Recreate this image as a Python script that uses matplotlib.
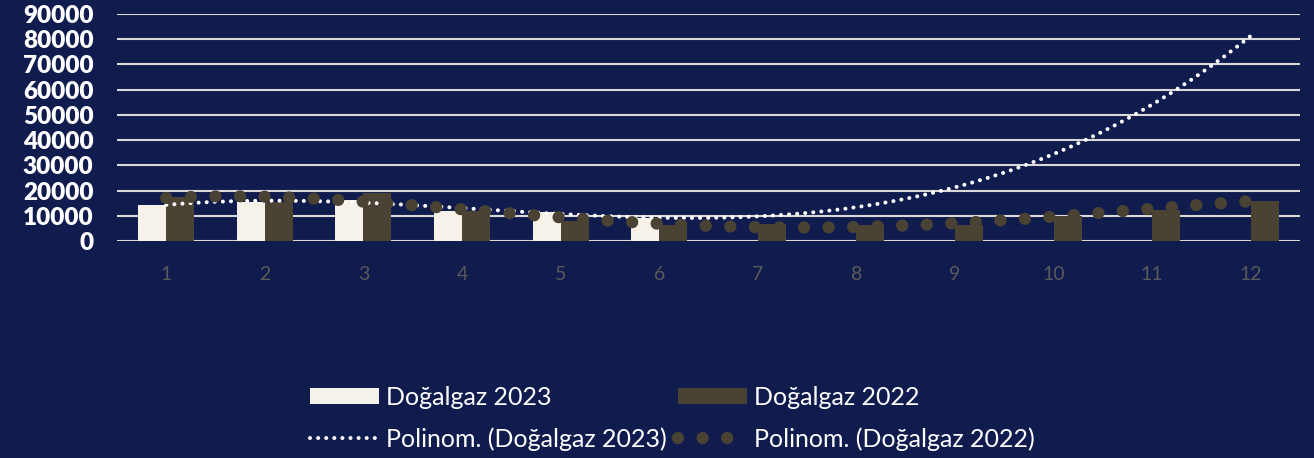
import matplotlib.pyplot as plt
import numpy as np

months = [1, 2, 3, 4, 5, 6, 7, 8, 9, 10, 11, 12]
gas_2023 = [14400, 15600, 16100, 12000, 11300, 9100]
gas_2022 = [17500, 15300, 19100, 11700, 8100, 6200, 6600, 6200, 6500, 9800, 12400, 16000]
y_ticks = [0, 10000, 20000, 30000, 40000, 50000, 60000, 70000, 80000, 90000]

bg = '#111C4E'
c23 = '#F6F2EA'
c22 = '#4A4334'

plt.rcParams['font.family'] = ['Lato', 'DejaVu Sans']

fig = plt.figure(figsize=(13.14, 4.58), dpi=100, facecolor=bg)
ax = fig.add_axes([117 / 1314, 1 - 241 / 458, (1300 - 117) / 1314, (241 - 14) / 458])
ax.set_facecolor(bg)

w = 0.284
x23 = np.array(months[:len(gas_2023)])
x22 = np.array(months)
b23 = ax.bar(x23 - w / 2, gas_2023, width=w, color=c23, zorder=2, label='Doğalgaz 2023')
b22 = ax.bar(x22 + w / 2, gas_2022, width=w, color=c22, zorder=2, label='Doğalgaz 2022')

# polynomial trend lines like the Excel ones (order 3 and 4)
xs = np.linspace(1, 12, 400)
p23 = np.polyfit(x23, gas_2023, 3)
p22 = np.polyfit(x22, gas_2022, 4)
l23, = ax.plot(xs, np.polyval(p23, xs), color='white', lw=2.9, dashes=(0.01, 2.0),
               dash_capstyle='round', zorder=3, label='Polinom. (Doğalgaz 2023)')
l22, = ax.plot(xs, np.polyval(p22, xs), color=c22, lw=8.8, dashes=(0.01, 2.0),
               dash_capstyle='round', zorder=4, label='Polinom. (Doğalgaz 2022)')

ax.set_xlim(0.5, 12.5)
ax.set_ylim(0, 90000)
ax.set_yticks(y_ticks)
ax.set_yticklabels([str(v) for v in y_ticks], color='white', fontsize=17.5, fontweight='heavy')
ax.set_xticks(months)
ax.set_xticklabels([str(m) for m in months], color='#5A5A5A', fontsize=14)
ax.tick_params(axis='y', length=0, pad=17)
ax.tick_params(axis='x', length=0, pad=18)
ax.grid(axis='y', color='#D9D9D9', lw=1.5, zorder=0)
ax.set_axisbelow(True)
for s in ax.spines.values():
    s.set_visible(False)

fig.legend(handles=[b23, l23, b22, l22], ncol=2, frameon=False, loc='upper left',
           bbox_to_anchor=(310 / 1314, 1 - 386 / 458), borderpad=0, borderaxespad=0,
           fontsize=18, labelcolor='white', handlelength=2.75, handletextpad=0.3,
           columnspacing=0.45, labelspacing=0.72, handleheight=0.6)

fig.savefig('out.png', dpi=100, facecolor=bg)
